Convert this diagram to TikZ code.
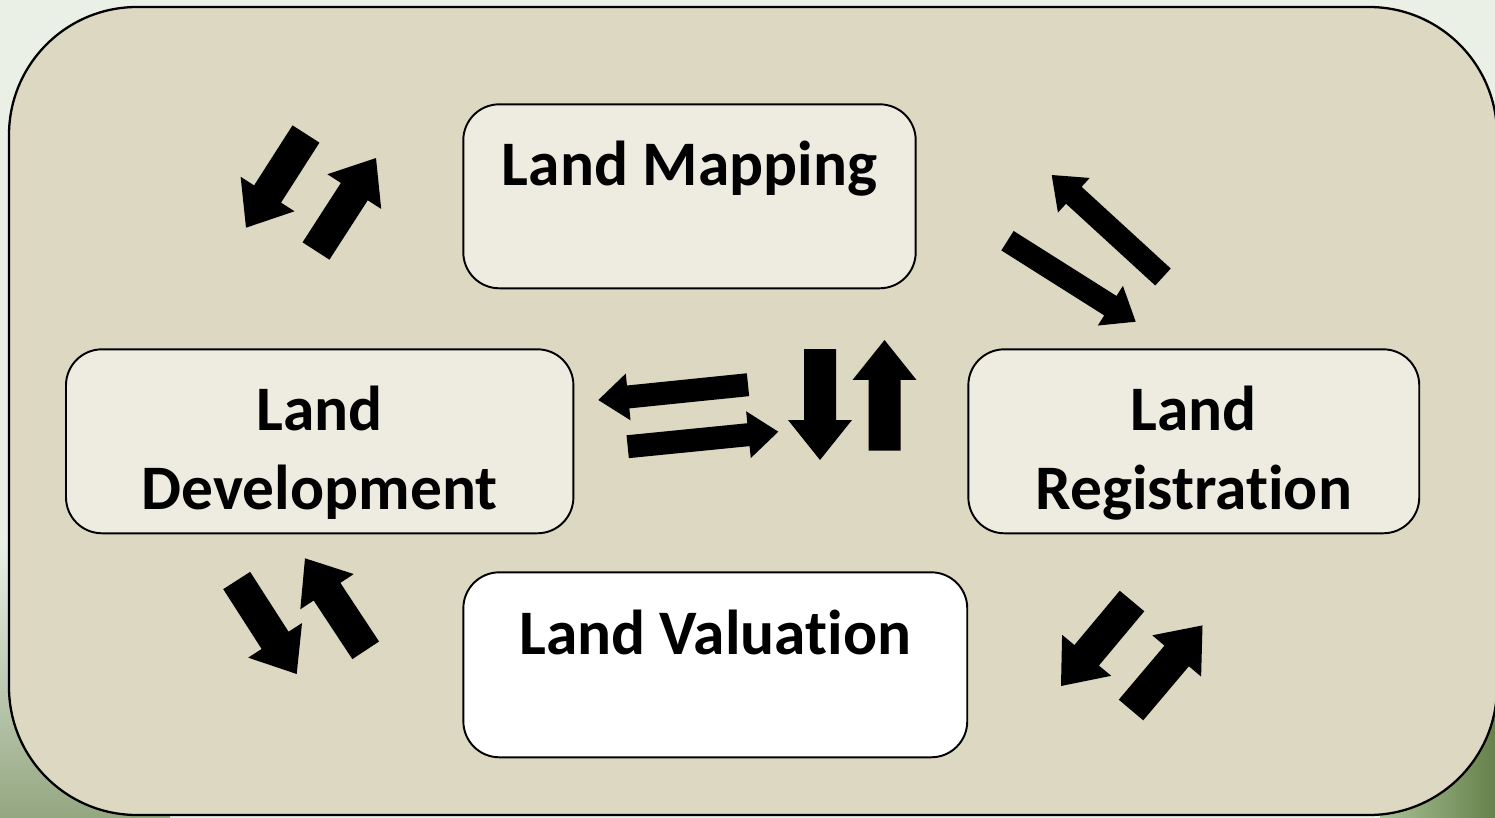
\documentclass[tikz,border=0pt]{standalone}
\usepackage{fontspec}
\setmainfont{Carlito}[Ligatures={NoCommon,NoContextual}]
\usetikzlibrary{calc}

\definecolor{pagebg}{HTML}{EAF0E6}
\definecolor{panelbeige}{HTML}{DDD8C2}
\definecolor{boxcream}{HTML}{EEEBE0}
\definecolor{leaflight}{HTML}{A9C196}
\definecolor{leafdark}{HTML}{66814B}

\tikzset{
  panel/.style={draw=black, line width=1.3pt, fill=panelbeige, rounded corners=2.56cm},
  landbox/.style={draw=black, line width=1.1pt, fill=boxcream, rounded corners=0.72cm,
    minimum height=3.68cm, inner sep=0pt},
  landtext/.style={anchor=north, inner sep=0pt, align=center,
    font=\fontsize{36.1}{45.1}\selectfont\bfseries},
  blockfill/.style={fill=black},
}

% fat arrow from #1 (tail) to #2 (tip): half shaft, half head, head length
\newcommand{\blockarrow}[5]{%
  \coordinate (neck) at ($(#2)!#5!(#1)$);
  \fill[blockfill] ($(#1)!#3!90:(#2)$) -- ($(neck)!#3!90:(#2)$)
    -- ($(neck)!#4!90:(#2)$) -- (#2) -- ($(neck)!#4!-90:(#2)$)
    -- ($(neck)!#3!-90:(#2)$) -- ($(#1)!#3!-90:(#2)$) -- cycle;
}
\newcommand{\bigarrow}[2]{\blockarrow{#1}{#2}{0.32cm}{0.64cm}{0.8cm}}
\newcommand{\smallarrow}[2]{\blockarrow{#1}{#2}{0.23cm}{0.47cm}{0.6cm}}

\begin{document}
\begin{tikzpicture}[x=0.02cm, y=-0.02cm]
            \useasboundingbox (0,0) rectangle (1495,818);
            \fill[pagebg] (0,0) rectangle (1495,818);
            \shade[top color=pagebg, bottom color=leafdark!70] (0,540) rectangle (170,818);
            \shade[left color=leaflight, right color=leafdark] (1380,640) rectangle (1495,818);

            \draw[panel] (9,7) rectangle (1497,815);

            % the four boxes
            \node[landbox, minimum width=9.05cm] (lm) at (689.5,196.3) {};
            \node[landbox, minimum width=10.15cm] (ld) at (319.7,441.3) {};
            \node[landbox, minimum width=9.02cm] (lr) at (1193.8,441.3) {};
            \node[landbox, minimum width=10.08cm, minimum height=3.7cm, fill=white] (lv) at (715.3,664.8) {};

            \node[landtext] (lmtext) at ($(lm.north)+(0,37.5)$) {Land Mapping};
            \node[landtext] (ldtext) at ($(ld.north)+(0,37.5)$) {Land\\Development};
            \node[landtext] (lrtext) at ($(lr.north)+(0,37.5)$) {Land\\Registration};
            \node[landtext] (lvtext) at ($(lv.north)+(0,38.5)$) {Land Valuation};

            %%%%%%%%%%%%%%%%%%%%%%%%%%%%%%%%%%%
            % Mapping <-> Development
            \coordinate (md-tail) at (306,134);   \coordinate (md-tip) at (246,227.7);
            \coordinate (dm-tail) at (316,251);   \coordinate (dm-tip) at (376,158);
            \bigarrow{md-tail}{md-tip}
            \bigarrow{dm-tail}{dm-tip}

            % Mapping <-> Registration
            \coordinate (rm-tail) at (1163,277);  \coordinate (rm-tip) at (1051.7,175);
            \coordinate (mr-tail) at (1007.5,240.7); \coordinate (mr-tip) at (1135.7,321.7);
            \smallarrow{rm-tail}{rm-tip}
            \smallarrow{mr-tail}{mr-tip}
            %%%%%%%%%%%%%%%%%%%%%%%%%%%%%%%%%%%

            %%%%%%%%%%%%%%%%%%%%%%%%%%%%%%%%%%%
            % centre: left and right, up and down
            \coordinate (cl-tail) at (748,384.7); \coordinate (cl-tip) at (598.3,400);
            \coordinate (cr-tail) at (627.7,446.7); \coordinate (cr-tip) at (778.3,431.7);
            \smallarrow{cl-tail}{cl-tip}
            \smallarrow{cr-tail}{cr-tip}

            \coordinate (cd-tail) at (820,349);   \coordinate (cd-tip) at (820,460);
            \coordinate (cu-tail) at (884.5,450.7); \coordinate (cu-tip) at (884.5,340);
            \bigarrow{cd-tail}{cd-tip}
            \bigarrow{cu-tail}{cu-tip}
            %%%%%%%%%%%%%%%%%%%%%%%%%%%%%%%%%%%

            %%%%%%%%%%%%%%%%%%%%%%%%%%%%%%%%%%%
            % Development <-> Valuation
            \coordinate (dv-tail) at (236.7,580.5); \coordinate (dv-tip) at (296.7,674);
            \coordinate (vd-tail) at (365.7,650.3); \coordinate (vd-tip) at (305,558.3);
            \bigarrow{dv-tail}{dv-tip}
            \bigarrow{vd-tail}{vd-tip}

            % Registration <-> Valuation
            \coordinate (rv-tail) at (1132,601);  \coordinate (rv-tip) at (1061,686);
            \coordinate (vr-tail) at (1131,710);  \coordinate (vr-tip) at (1202.5,625.4);
            \bigarrow{rv-tail}{rv-tip}
            \bigarrow{vr-tail}{vr-tip}
            %%%%%%%%%%%%%%%%%%%%%%%%%%%%%%%%%%%
\end{tikzpicture}
\end{document}
